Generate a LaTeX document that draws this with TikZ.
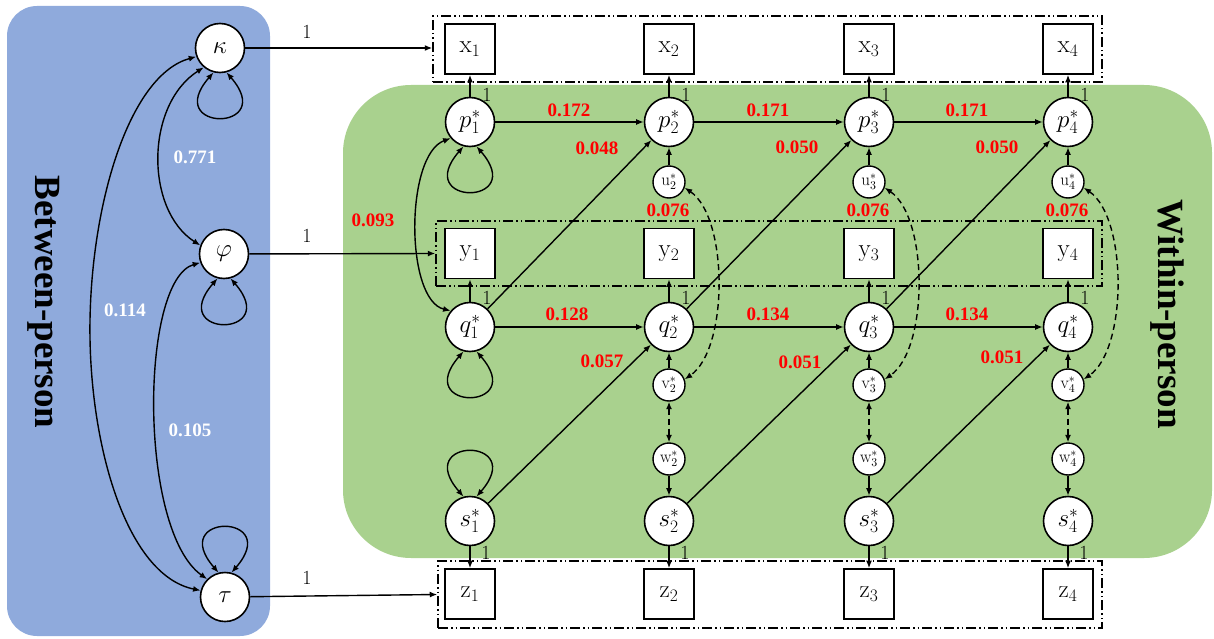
\RequirePackage{fix-cm}
\documentclass[tikz,border=0pt]{standalone}
\usepackage{fontspec}
\newfontfamily\tnr{Liberation Serif}
\usetikzlibrary{arrows.meta}
\definecolor{bluepanel}{RGB}{143,170,220}
\definecolor{greenpanel}{RGB}{169,209,142}
\definecolor{coefred}{RGB}{255,0,0}
\tikzset{
  lat/.style={circle, draw, line width=1.6pt, fill=white, minimum size=49pt, inner sep=0pt, font=\fontsize{25}{28}\selectfont},
  sm/.style={circle, draw, line width=1.4pt, fill=white, minimum size=32pt, inner sep=0pt, font=\fontsize{17}{19}\selectfont},
  obs/.style={rectangle, draw, line width=1.6pt, fill=white, minimum size=50pt, inner sep=0pt, font=\fontsize{25}{28}\selectfont},
  grp/.style={draw, line width=1.5pt, inner sep=0pt, dash pattern=on 10pt off 3pt on 1.5pt off 3pt on 1.5pt off 3pt},
  arr/.style={line width=1.4pt, -{Latex[length=7.5pt,width=6pt]}},
  dbl/.style={line width=1.4pt, {Latex[length=7.5pt,width=6pt]}-{Latex[length=7.5pt,width=6pt]}},
  dsh/.style={dash pattern=on 6pt off 4pt},
  coef/.style={text=coefred, font=\tnr\bfseries\fontsize{19}{22}\selectfont, inner sep=0pt},
  wcoef/.style={text=white, font=\tnr\bfseries\fontsize{19}{22}\selectfont, inner sep=0pt},
  one/.style={font=\fontsize{20}{22}\selectfont, inner sep=0pt},
  panel/.style={font=\tnr\bfseries\fontsize{37}{40}\selectfont, rotate=-90, anchor=base, inner sep=0pt},
}
\begin{document}
\begin{tikzpicture}[x=1pt,y=-1pt]
\useasboundingbox (0,0) rectangle (1214,639);
% panels
\fill[bluepanel, rounded corners=30pt] (7,6) rectangle (270,636);
\fill[greenpanel, rounded corners=68pt] (343,85) rectangle (1212,558);
\node[panel] (tb) at (35,302) {Between-person};
\node[panel] (tw) at (1158,314) {Within-person};
% group boxes
\node[grp, minimum width=669pt, minimum height=66pt] (xg) at (767.5,49) {};
\node[grp, minimum width=666pt, minimum height=65pt] (yg) at (769,253.5) {};
\node[grp, minimum width=664pt, minimum height=67pt] (zg) at (770,594.5) {};
% between-person nodes
\node[lat] (kappa) at (220,48) {$\kappa$};
\node[lat] (phi) at (224,254) {$\varphi$};
\node[lat] (tau) at (225,597) {$\tau$};
% within-person nodes
\foreach \i/\cx in {1/470,2/669,3/869,4/1068}{
  \node[obs] (x\i) at (\cx,49) {$\mathrm{x}_{\i}$};
  \node[obs] (y\i) at (\cx,253.5) {$\mathrm{y}_{\i}$};
  \node[obs] (z\i) at (\cx,594) {$\mathrm{z}_{\i}$};
  \node[lat] (p\i) at (\cx,122) {$p_{\i}^{*}$};
  \node[lat] (q\i) at (\cx,327) {$q_{\i}^{*}$};
  \node[lat] (s\i) at (\cx,521) {$s_{\i}^{*}$};
  \draw[arr] (p\i) -- (x\i);
  \draw[arr] (q\i) -- (y\i);
  \draw[arr] (s\i) -- (z\i);
  \node[one] (lp\i) at (\cx+17,95) {1};
  \node[one] (lq\i) at (\cx+17,298) {1};
  \node[one] (ls\i) at (\cx+16,553) {1};
}
\foreach \i/\cx in {2/669,3/869,4/1068}{
  \node[sm] (u\i) at (\cx,182) {$\mathrm{u}_{\i}^{*}$};
  \node[sm] (v\i) at (\cx,385) {$\mathrm{v}_{\i}^{*}$};
  \node[sm] (w\i) at (\cx,459) {$\mathrm{w}_{\i}^{*}$};
  \draw[arr] (u\i) -- (p\i);
  \draw[arr] (v\i) -- (q\i);
  \draw[arr] (w\i) -- (s\i);
  \draw[dbl, dsh] (v\i) -- (w\i);
  \draw[dbl, dsh] (u\i.-20) .. controls +(44,30) and +(44,-30) .. (v\i.20);
  \node[coef] (lc\i) at (\cx-1,210) {0.076};
}
% autoregressive and cross-lagged paths
\foreach \i/\j in {1/2,2/3,3/4}{
  \draw[arr] (p\i) -- (p\j);
  \draw[arr] (q\i) -- (q\j);
  \draw[arr] (q\i) -- (p\j);
  \draw[arr] (s\i) -- (q\j);
}
\node[coef] (a1) at (569,110) {0.172};
\node[coef] (a2) at (768,110) {0.171};
\node[coef] (a3) at (967,110) {0.171};
\node[coef] (b1) at (567,314) {0.128};
\node[coef] (b2) at (768,314) {0.134};
\node[coef] (b3) at (967,314) {0.134};
\node[coef] (c1) at (597,148) {0.048};
\node[coef] (c2) at (797,147) {0.050};
\node[coef] (c3) at (997,147) {0.050};
\node[coef] (d1) at (602,361) {0.057};
\node[coef] (d2) at (800,362) {0.051};
\node[coef] (d3) at (1002,357) {0.051};
% p1-q1 covariance
\draw[dbl] (p1.220) .. controls (405,155) and (405,300) .. (q1.140);
\node[coef] (e1) at (373,220) {0.093};
% self loops
\draw[dbl] (p1.-105) .. controls +(-52,60) and +(52,60) .. (p1.-75);
\draw[dbl] (q1.-105) .. controls +(-52,60) and +(52,60) .. (q1.-75);
\draw[dbl] (s1.105) .. controls +(-52,-60) and +(52,-60) .. (s1.75);
\draw[dbl] (kappa.-105) .. controls +(-52,60) and +(52,60) .. (kappa.-75);
\draw[dbl] (phi.-105) .. controls +(-52,60) and +(52,60) .. (phi.-75);
\draw[dbl] (tau.105) .. controls +(-52,-60) and +(52,-60) .. (tau.75);
% between-person covariances
\draw[dbl] (kappa.200) .. controls (130,75) and (92,200) .. (90,320) .. controls (88,440) and (125,575) .. (tau.165);
\draw[dbl] (kappa.230) .. controls (145,105) and (145,210) .. (phi.160);
\draw[dbl] (phi.200) .. controls (140,280) and (138,530) .. (tau.135);
\node[wcoef] (f1) at (195,157) {0.771};
\node[wcoef] (f2) at (125,310) {0.114};
\node[wcoef] (f3) at (190,430) {0.105};
% loadings to observed groups
\draw[arr] (kappa) -- (kappa -| xg.west);
\draw[arr] (phi) -- (yg.west);
\draw[arr] (tau) -- (zg.west);
\node[one] (g1) at (307,32) {1};
\node[one] (g2) at (307,236) {1};
\node[one] (g3) at (307,578) {1};
\end{tikzpicture}
\end{document}
